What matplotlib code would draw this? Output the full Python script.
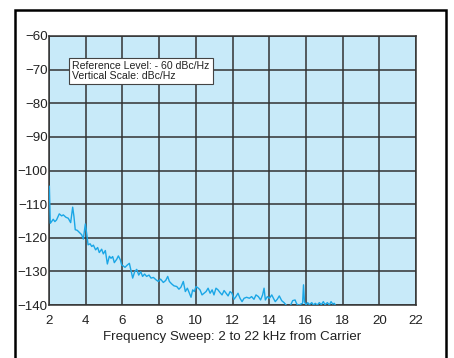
import matplotlib
matplotlib.use("Agg")
import matplotlib.pyplot as plt
from matplotlib.patches import Rectangle

# trace (kHz from carrier, dBc/Hz)
freq_khz = [
    2.02, 2.07, 2.14, 2.23, 2.32, 2.41, 2.56, 2.69, 2.78, 2.92, 3.05, 3.18, 3.29, 3.36,
    3.43, 3.54, 3.65, 3.78, 3.87, 3.98, 4.05, 4.13, 4.24, 4.33, 4.42, 4.54, 4.65, 4.74,
    4.87, 4.96, 5.07, 5.18, 5.29, 5.38, 5.47, 5.56, 5.69, 5.78, 5.89, 5.96, 6.05, 6.14,
    6.27, 6.38, 6.47, 6.56, 6.67, 6.78, 6.89, 7.00, 7.10, 7.21, 7.32, 7.45, 7.56, 7.69,
    7.83, 7.96, 8.08, 8.23, 8.36, 8.47, 8.56, 8.68, 8.81, 8.96, 9.08, 9.19, 9.32, 9.43,
    9.54, 9.65, 9.74, 9.83, 9.92, 10.01, 10.14, 10.23, 10.34, 10.45, 10.56, 10.67, 10.78,
    10.89, 10.99, 11.10, 11.21, 11.32, 11.43, 11.54, 11.65, 11.76, 11.87, 11.97, 12.08,
    12.19, 12.30, 12.41, 12.52, 12.63, 12.77, 12.92, 13.04, 13.17, 13.28, 13.41, 13.53,
    13.64, 13.72, 13.79, 13.90, 14.01, 14.14, 14.23, 14.33, 14.44, 14.55, 14.68, 14.81,
    14.92, 15.05, 15.17, 15.28, 15.41, 15.50, 15.62, 15.73, 15.82, 15.87, 15.92, 16.01,
    16.10, 16.19, 16.32, 16.41, 16.51, 16.62, 16.73, 16.84, 16.95, 17.04, 17.17, 17.28,
    17.37, 17.46, 17.55, 17.60,
]
level_dbc = [
    -104.7, -115.7, -115.2, -114.5, -115.2, -114.7, -112.9, -113.5, -113.2, -113.9, -114.2, -115.5, -110.9, -113.7,
    -117.6, -117.8, -118.4, -119.1, -120.4, -115.9, -118.6, -122.1, -121.8, -122.6, -122.2, -123.6, -122.9, -124.4,
    -123.4, -124.8, -123.8, -127.8, -125.5, -126.1, -125.6, -127.4, -126.4, -125.4, -126.6, -128.1, -128.4, -128.8,
    -128.1, -127.6, -129.8, -132.0, -130.1, -129.4, -131.1, -130.1, -131.5, -130.8, -131.5, -131.1, -132.0, -131.8,
    -132.5, -133.0, -132.3, -133.3, -132.7, -131.5, -133.0, -133.7, -134.3, -134.5, -135.3, -134.7, -133.0, -136.0,
    -135.0, -136.5, -137.7, -135.5, -136.0, -134.5, -135.0, -135.5, -137.0, -136.5, -136.0, -135.0, -136.5,
    -135.5, -137.0, -135.0, -135.5, -136.3, -137.0, -135.7, -136.5, -137.3, -136.0, -136.5, -138.3,
    -137.5, -136.5, -138.0, -139.0, -138.0, -137.7, -138.0, -137.5, -138.3, -137.0, -137.5, -138.5,
    -137.0, -135.0, -138.5, -137.5, -138.0, -137.0, -138.0, -139.0, -138.3, -137.3, -138.7, -139.3,
    -140.0, -140.5, -140.0, -138.7, -138.5, -139.7, -140.1, -139.7, -139.5, -134.0, -139.0, -140.0,
    -139.3, -139.9, -139.3, -140.0, -139.5, -140.0, -139.3, -139.9, -139.0, -139.9, -139.3, -140.0,
    -139.0, -139.7, -139.5, -140.0,
]

x_ticks = list(range(2, 23, 2))
y_ticks = list(range(-140, -59, 10))
x_label = "Frequency Sweep: 2 to 22 kHz from Carrier"
note_text = "Reference Level: - 60 dBc/Hz\nVertical Scale: dBc/Hz"

plt.rcParams["font.family"] = ["Liberation Sans", "DejaVu Sans"]

fig = plt.figure(figsize=(4.54, 3.58), dpi=100)
ax = fig.add_axes([49 / 454, 1 - 305 / 358, 367 / 454, 269 / 358])

ax.set_facecolor("#c8eaf9")
ax.plot(freq_khz, level_dbc, color="#1aa6e6", linewidth=1.0, zorder=3)

ax.set_xlim(2, 22)
ax.set_ylim(-140, -60)
ax.set_xticks(x_ticks)
ax.set_yticks(y_ticks)
ax.tick_params(axis="both", length=0, labelsize=9.6, colors="#222222")
ax.tick_params(axis="x", pad=7.5)
ax.tick_params(axis="y", pad=1)
ax.grid(True, color="#333333", linewidth=1.1)
ax.set_axisbelow(True)
for sp in ax.spines.values():
    sp.set_color("#333333")
    sp.set_linewidth(1.1)
ax.set_xlabel(x_label, fontsize=9.6, color="#222222", labelpad=2.5)

# annotation box in the upper left
ax.text(0.063, 0.908, note_text, transform=ax.transAxes, fontsize=7.6, va="top", ha="left",
        linespacing=1.05, color="#222222",
        bbox=dict(boxstyle="square,pad=0.3", facecolor="white", edgecolor="#444444", linewidth=0.8))

# outer black frame (bottom edge runs off the picture)
fig.patches.append(Rectangle((15 / 454, -0.05), 431 / 454, 1.05 - 10 / 358,
                             transform=fig.transFigure, fill=False, edgecolor="black", linewidth=1.8))

fig.savefig("out.png", dpi=100)
